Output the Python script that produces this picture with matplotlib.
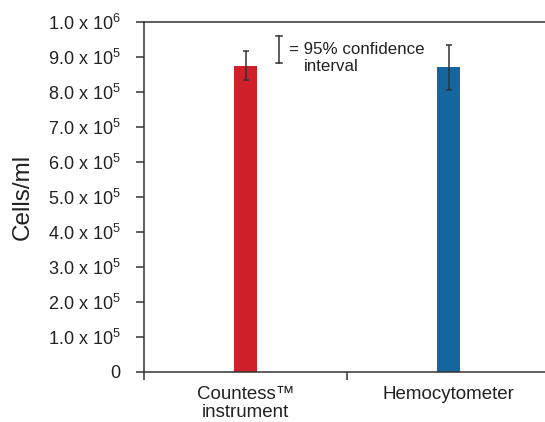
import matplotlib
matplotlib.use('Agg')
from matplotlib import pyplot as plt
from matplotlib import transforms
import numpy as np

plt.rcParams['font.family'] = ['Liberation Sans', 'DejaVu Sans']
plt.rcParams['mathtext.fontset'] = 'custom'
plt.rcParams['mathtext.rm'] = 'Liberation Sans'
plt.rcParams['mathtext.it'] = 'Liberation Sans'

# bar data (cells/ml) and 95% confidence bounds
methods = ['Countess\u2122\ninstrument', 'Hemocytometer']
counts = [874000, 872000]
err_low = [41000, 65000]
err_high = [44000, 62000]
colors = ['#d0202a', '#15669e']

yticks = [0, 1e5, 2e5, 3e5, 4e5, 5e5, 6e5, 7e5, 8e5, 9e5, 1e6]
ylabels = ['0'] + ['%.1f x 10$^{5}$' % (v / 1e5) for v in yticks[1:-1]] + ['1.0 x 10$^{6}$']

ink = '#333333'
txt = '#222222'

fig = plt.figure(figsize=(5.45, 4.22), dpi=100)
ax = fig.add_axes([144/545, 50/422, 406/545, 350/422])

x = np.arange(len(methods))
ax.bar(x, counts, width=0.115, color=colors, zorder=2)
ax.errorbar(x, counts, yerr=[err_low, err_high], fmt='none', ecolor=ink,
            elinewidth=1.1, capsize=2.5, capthick=1.1, zorder=3)

ax.set_xlim(-0.5, 1.5)
ax.set_ylim(0, 1e6)
ax.set_yticks(yticks)
ax.set_yticklabels(ylabels)
ax.set_xticks([-0.5, 0.5, 1.5])
ax.set_xticklabels([])
ax.set_xticks(x, minor=True)
ax.set_xticklabels(methods, minor=True, linespacing=1.1)
ax.tick_params(axis='x', which='minor', length=0, pad=10, labelsize=13.5, colors=txt)
ax.tick_params(axis='x', which='major', length=6, width=1.1, color=ink)
ax.tick_params(axis='y', length=6, width=1.1, color=ink, labelsize=13, labelcolor=txt, pad=11)

for s in ['left', 'bottom', 'top']:
    ax.spines[s].set_color(ink)
    ax.spines[s].set_linewidth(1.1)
ax.spines['right'].set_visible(False)

ax.set_ylabel('Cells/ml', fontsize=17.5, color=txt, labelpad=10)

# legend key for the error bars
kx = 0.3325
trans = transforms.blended_transform_factory(ax.transAxes, ax.transData)
ax.plot([kx, kx], [0.96e6, 0.883e6], color=ink, lw=1.1, transform=trans)
ax.plot([kx - 0.007, kx + 0.007], [0.96e6, 0.96e6], color=ink, lw=1.1, transform=trans)
ax.plot([kx - 0.007, kx + 0.007], [0.883e6, 0.883e6], color=ink, lw=1.1, transform=trans)
ax.text(kx + 0.025, 0.922e6, '= 95% confidence', transform=trans, fontsize=12.2,
        va='center', ha='left', color=txt)
ax.text(kx + 0.062, 0.872e6, 'interval', transform=trans, fontsize=12.2,
        va='center', ha='left', color=txt)

fig.savefig('out.png', dpi=100)
